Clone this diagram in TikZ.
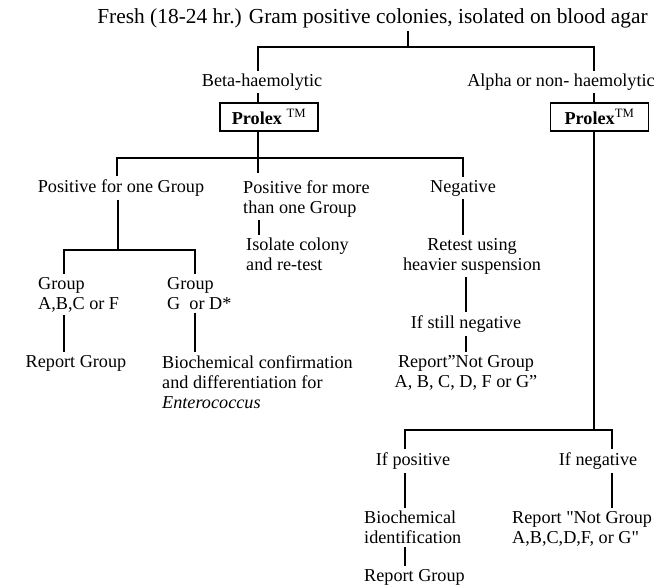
\documentclass[tikz,border=0pt]{standalone}
\usepackage{fontspec}
\setmainfont{Liberation Serif}[Ligatures=TeXOff]
\newcommand\myfs{\fontsize{18.2}{20}\selectfont}
\newcommand\myts{\fontsize{21.4}{24}\selectfont}
\begin{document}
\begin{tikzpicture}[x=1pt,y=-1pt,
  t/.style={inner xsep=0pt, inner ysep=3pt, font=\myfs, align=center},
  tl/.style={inner xsep=0pt, inner ysep=3pt, font=\myfs, align=left, anchor=north west},
  ln/.style={line width=1.7pt, line join=miter},
  pbox/.style={draw, line width=1.3pt, minimum width=98pt, minimum height=28pt, inner sep=0pt, font=\myfs}]
\useasboundingbox (0,0) rectangle (668,585);
% top
\node[t, font=\myts] (title) at (372.5,18) {Fresh (18-24 hr.) Gram positive colonies, isolated on blood agar};
\coordinate (c1) at (408,47);
\coordinate (c1l) at (258,47);
\coordinate (c1r) at (594,47);
\node[t] (beta) at (262,82) {Beta-haemolytic};
\node[t] (alpha) at (561,82) {Alpha or non- haemolytic};
\node[pbox] (p1) at (269,117) {\textbf{Prolex} \textsuperscript{TM}};
\node[pbox] (p2) at (599.5,117) {\textbf{Prolex}\textsuperscript{TM}};
\draw[ln] (c1 |- title.south) -- (c1);
\draw[ln] (c1l |- beta.north) -- (c1l) -- (c1r) -- (c1r |- alpha.north);
\draw[ln] (c1l |- beta.south) -- (c1l |- p1.north);
\draw[ln] (c1r |- alpha.south) -- (c1r |- p2.north);
% beta branch
\coordinate (c2) at (258,158);
\coordinate (c2l) at (117,158);
\coordinate (c2r) at (463,158);
\coordinate (c2e) at (258,173);
\coordinate (c2m) at (259,0);
\node[t] (pos1) at (121,188) {Positive for one Group};
\node[tl] (posm) at (243,177) {Positive for more\\than one Group};
\node[t] (neg) at (463,188) {Negative};
\draw[ln] (c1l |- p1.south) -- (c2e);
\draw[ln] (c2l |- pos1.north) -- (c2l) -- (c2r) -- (c2r |- neg.north);
\node[tl] (isol) at (246,235) {Isolate colony\\and re-test};
\draw[ln] (c2m |- posm.south) -- (c2m |- isol.north);
\node[t] (retest) at (472,256) {Retest using\\heavier suspension};
\draw[ln] (c2r |- neg.south) -- (c2r |- retest.north);
\node[t] (still) at (466,324) {If still negative};
\draw[ln] (still.north |- retest.south) -- (still.north);
\node[t] (rnot) at (466,373) {Report”Not Group\\ A, B, C, D, F or G”};
\draw[ln] (still.south) -- (still.south |- rnot.north);
% groups
\coordinate (c3) at (118,250);
\coordinate (c3l) at (64,250);
\coordinate (c3r) at (195,250);
\node[tl] (g1) at (38,274) {Group\\A,B,C or F};
\node[tl] (g2) at (167,274) {Group\\G~ or D*};
\draw[ln] (c3 |- pos1.south) -- (c3);
\draw[ln] (c3l |- g1.north) -- (c3l) -- (c3r) -- (c3r |- g2.north);
\node[t] (rg1) at (76,363) {Report Group};
\node[tl] (bio) at (162,352) {Biochemical confirmation\\and differentiation for\\\textit{Enterococcus}};
\draw[ln] (c3l |- g1.south) -- (c3l |- rg1.north);
\draw[ln] (c3r |- g2.south) -- (c3r |- bio.north);
% alpha branch
\coordinate (c4) at (594,430);
\coordinate (c4l) at (405,430);
\coordinate (c4r) at (612,430);
\node[t] (ifpos) at (413,461) {If positive};
\node[t] (ifneg) at (598,461) {If negative};
\draw[ln] (c1r |- p2.south) -- (c4);
\draw[ln] (c4l |- ifpos.north) -- (c4l) -- (c4r) -- (c4r |- ifneg.north);
\node[tl] (bid) at (364,508) {Biochemical\\identification};
\node[tl] (rg2) at (364,566) {Report Group};
\node[tl] (rn2) at (512,508) {Report "Not Group\\A,B,C,D,F, or G"};
\draw[ln] (c4l |- ifpos.south) -- (c4l |- bid.north);
\draw[ln] (c4l |- bid.south) -- (c4l |- rg2.north);
\draw[ln] (c4r |- ifneg.south) -- (c4r |- rn2.north);
\end{tikzpicture}
\end{document}
